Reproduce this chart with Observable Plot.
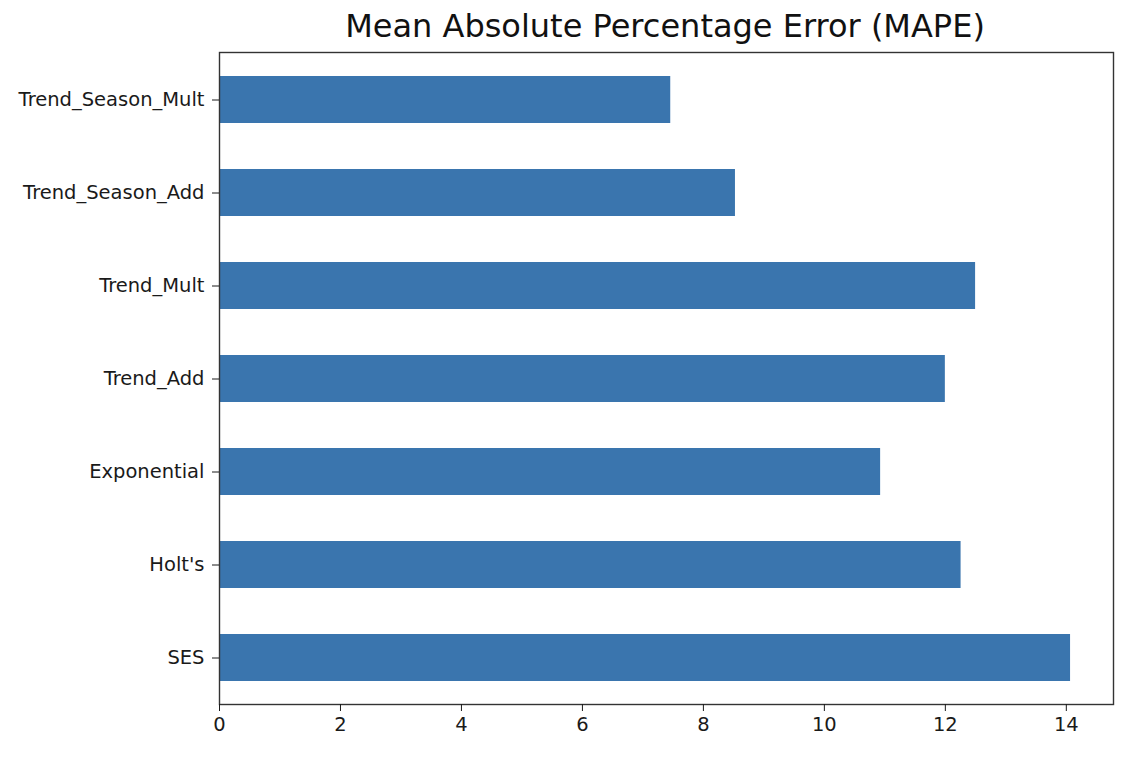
<!DOCTYPE html>
<html>
<head>
<meta charset="utf-8">
<script src="https://cdn.jsdelivr.net/npm/d3@7"></script>
<script src="https://cdn.jsdelivr.net/npm/@observablehq/plot@0.6"></script>
<style>
  html, body { margin: 0; padding: 0; background: #fff; }
  #title { width: 1134px; height: 51px; position: relative; font-family: "DejaVu Sans", sans-serif; }
  #title span { position: absolute; left: 665px; top: 7px; transform: translateX(-50%); font-size: 32px; color: #111; white-space: nowrap; }
</style>
</head>
<body>
<div id="title"><span>Mean Absolute Percentage Error (MAPE)</span></div>
<div id="chart"></div>
<script>
const models = ["SES", "Holt's", "Exponential", "Trend_Add", "Trend_Mult", "Trend_Season_Add", "Trend_Season_Mult"];
const mape = [14.07, 12.26, 10.93, 12.00, 12.50, 8.53, 7.46];
const xTicks = [0, 2, 4, 6, 8, 10, 12, 14];

const data = models.map((m, i) => ({model: m, value: mape[i]}));

const plot = Plot.plot({
  width: 1134,
  height: 708,
  marginTop: 1,
  marginBottom: 55,
  marginLeft: 219,
  marginRight: 21,
  style: {fontFamily: "DejaVu Sans, sans-serif", fontSize: "19.5px", color: "#1a1a1a", background: "#fff"},
  x: {domain: [0, 14.78], label: null},
  y: {domain: models.slice().reverse(), paddingInner: 0.5, paddingOuter: 0.25, label: null},
  marks: [
    Plot.barX(data, {x: "value", y: "model", fill: "#3a75ae"}),
    Plot.frame({stroke: "#333", strokeWidth: 1.4}),
    Plot.axisX({ticks: xTicks, tickSize: 7, tickPadding: 6, label: null, tickFormat: d => String(d)}),
    Plot.axisY({tickSize: 7, tickPadding: 8, label: null})
  ]
});
document.getElementById("chart").appendChild(plot);
</script>
</body>
</html>
